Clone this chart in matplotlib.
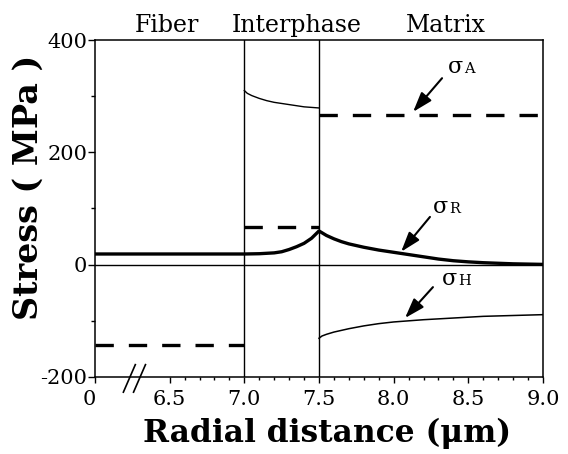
import matplotlib
matplotlib.use("Agg")
import matplotlib.pyplot as plt
import matplotlib.transforms as mtransforms
from matplotlib.ticker import FixedLocator

# -----------------------
# DATA
# -----------------------
regions = ["Fiber", "Interphase", "Matrix"]
region_centers = [6.48, 7.35, 8.35]
boundaries = [7.0, 7.5]

# dashed stress levels (fiber / interphase / matrix)
dash_x = [[6.0, 7.0], [7.0, 7.5], [7.5, 9.0]]
dash_y = [[-143, -143], [67, 67], [266, 266]]

# sigma R (thick)
sigR_x = [6.0, 7.0, 7.1, 7.2, 7.25, 7.3, 7.35, 7.4, 7.45, 7.5,
          7.55, 7.6, 7.65, 7.7, 7.8, 7.9, 8.0, 8.1, 8.2, 8.3, 8.4, 8.5, 8.6, 8.7, 8.8, 9.0]
sigR_y = [19, 19, 19.5, 21, 23, 27, 32, 38, 47, 60,
          52, 46, 41, 37, 31, 26, 22, 18, 14, 10, 7, 5, 3.5, 2.5, 1.5, 0.5]

# sigma H (thin), interphase and matrix pieces
sigH_int_x = [7.0, 7.02, 7.05, 7.1, 7.15, 7.2, 7.3, 7.4, 7.5]
sigH_int_y = [310, 305, 301, 296, 292, 289, 285, 281, 279]
sigH_mat_x = [7.5, 7.52, 7.55, 7.6, 7.7, 7.8, 7.9, 8.0, 8.2, 8.4, 8.6, 8.8, 9.0]
sigH_mat_y = [-131, -127, -124, -120, -114, -109, -105, -102, -98, -95, -92, -90.5, -89]

xticks = [6.0, 6.5, 7.0, 7.5, 8.0, 8.5, 9.0]
xticklabels = ["0", "6.5", "7.0", "7.5", "8.0", "8.5", "9.0"]
yticks = [-200, 0, 200, 400]

# label, text position, arrow start, arrow tip
notes = [
    ("A", (8.364, 341), (8.324, 332), (8.13, 272)),
    ("R", (8.263, 92), (8.243, 85), (8.05, 23)),
    ("H", (8.324, -36), (8.263, -40), (8.076, -95)),
]

SERIF = "DejaVu Serif"

fig = plt.figure(figsize=(5.68, 4.54), dpi=100)
ax = fig.add_axes([95 / 568, 1 - 377 / 454, 448 / 568, 337 / 454])

# -----------------------
# LINES
# -----------------------
for b in boundaries:
    ax.axvline(b, color="black", lw=1.0)
ax.axhline(0, color="black", lw=1.0)

for xs, ys in zip(dash_x, dash_y):
    ax.plot(xs, ys, color="black", lw=2.4, dashes=(5.5, 4.5))

ax.plot(sigR_x, sigR_y, color="black", lw=2.4, solid_joinstyle="round")
ax.plot(sigH_int_x, sigH_int_y, color="black", lw=1.0)
ax.plot(sigH_mat_x, sigH_mat_y, color="black", lw=1.1)

ax.set_xlim(6.0, 9.0)
ax.set_ylim(-200, 400)

# -----------------------
# TICKS
# -----------------------
ax.set_xticks(xticks)
ax.set_xticklabels(xticklabels)
ax.xaxis.set_minor_locator(FixedLocator([6.5 + 0.1 * i for i in range(26)]))
ax.set_yticks(yticks)
ax.set_yticklabels(["-200", "0", "200", "400"])
ax.yaxis.set_minor_locator(FixedLocator([-100, 100, 300]))

ax.tick_params(axis="x", which="major", direction="out", length=4.5, width=1.0, pad=5)
ax.tick_params(axis="x", which="minor", direction="out", length=2.5, width=1.0)
ax.tick_params(axis="y", which="major", direction="out", length=5, width=1.0, pad=0.5)
ax.tick_params(axis="y", which="minor", direction="out", length=3, width=1.0)
for lab in ax.get_xticklabels() + ax.get_yticklabels():
    lab.set_family(SERIF)
    lab.set_fontsize(15)

# the "0" under the broken axis sits a bit left of the spine
shift = mtransforms.ScaledTranslation(-0.06, 0, fig.dpi_scale_trans)
zero_lab = ax.get_xticklabels()[0]
zero_lab.set_transform(zero_lab.get_transform() + shift)

for s in ax.spines.values():
    s.set_linewidth(1.1)

# axis break mark
for dx in [0, 0.068]:
    ax.plot([6.19 + dx, 6.27 + dx], [-227, -178], color="black", lw=1.2, clip_on=False)

# -----------------------
# TEXT
# -----------------------
trans = ax.get_xaxis_transform()
for name, cx in zip(regions, region_centers):
    ax.text(cx, 1.042, name, transform=trans, ha="center", va="center",
            family=SERIF, fontsize=17)

for sub, (tx, ty), start, tip in notes:
    ax.text(tx, ty, "σ", family=SERIF, fontsize=16, ha="left", va="baseline")
    ax.text(tx + 0.11, ty, sub, family=SERIF, fontsize=10.5, ha="left", va="baseline")
    ax.annotate("", xy=tip, xytext=start,
                arrowprops=dict(arrowstyle="-|>,head_length=0.6,head_width=0.2",
                                color="black", lw=1.5, mutation_scale=20,
                                shrinkA=0, shrinkB=0))

fig.text(28 / 568, 1 - 187 / 454, "Stress ( MPa )", rotation=90, ha="center",
         va="center", family=SERIF, fontweight="bold", fontsize=24)
fig.text(327 / 568, 1 - 433 / 454, "Radial distance (μm)", ha="center",
         va="center", family=SERIF, fontweight="bold", fontsize=22.5)

fig.savefig("out.png", dpi=100)
